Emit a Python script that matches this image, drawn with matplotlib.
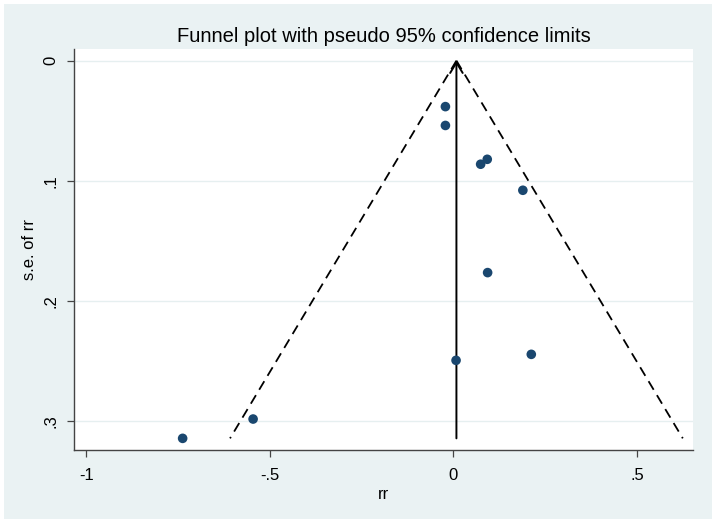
import numpy as np
import matplotlib.pyplot as plt
from matplotlib.patches import Rectangle

# study estimates
rr = [-0.738, -0.546, 0.007, 0.212, -0.022, -0.022, 0.092, 0.074, 0.189, 0.093]
se = [0.3147, 0.2986, 0.2497, 0.2447, 0.0383, 0.0540, 0.0822, 0.0863, 0.1080, 0.1766]
pooled = 0.008

x_ticks = [-1, -0.5, 0, 0.5]
x_labels = ['-1', '-.5', '0', '.5']
y_ticks = [0, 0.1, 0.2, 0.3]
y_labels = ['0', '.1', '.2', '.3']

bg = '#eaf2f3'
navy = '#1a476f'

plt.rcParams['font.family'] = ['Liberation Sans', 'DejaVu Sans']

fig = plt.figure(figsize=(7.17, 5.24), dpi=100, facecolor='white')
# stata style grey-blue graph region with a thin white border
fig.patches.append(Rectangle((4 / 717, 5 / 524), 708 / 717, 515 / 524,
                             transform=fig.transFigure, facecolor=bg,
                             edgecolor='none', zorder=-5))

ax = fig.add_axes([74 / 717, 74 / 524, 619 / 717, 401 / 524])
ax.set_zorder(1)
ax.set_facecolor('white')

# pseudo 95% confidence limits
max_se = max(se)
s = np.array([0, max_se])
ax.plot(pooled - 1.96 * s, s, color='black', lw=1.3, ls=(0, (5.5, 3.5)))
ax.plot(pooled + 1.96 * s, s, color='black', lw=1.3, ls=(0, (5.5, 3.5)))

# pooled estimate line with arrow at the top
ax.annotate('', xy=(pooled, 0), xytext=(pooled, max_se),
            arrowprops=dict(arrowstyle='->,head_length=0.5,head_width=0.3',
                            lw=1.4, color='black',
                            mutation_scale=15, shrinkA=0, shrinkB=0))

ax.scatter(rr, se, s=48, color=navy, zorder=3, edgecolors='none')

ax.set_xlim(-1.034, 0.6526)
ax.set_ylim(0.3244, -0.0097)

ax.set_xticks(x_ticks)
ax.set_xticklabels(x_labels)
ax.set_yticks(y_ticks)
ax.set_yticklabels(y_labels, rotation=90, va='center')
ax.tick_params(labelsize=12, length=5, width=0.9, color='#444444', pad=6)
ax.tick_params(axis='x', pad=8)

ax.grid(axis='y', color='#e6eff0', lw=1.0)
ax.set_axisbelow(True)

for side in ['top', 'right']:
    ax.spines[side].set_visible(False)
for side in ['left', 'bottom']:
    ax.spines[side].set_color('#444444')
    ax.spines[side].set_linewidth(1.0)

ax.set_xlabel('rr', fontsize=12, labelpad=3)
ax.set_ylabel('s.e. of rr', fontsize=12, labelpad=5)
ax.set_title('Funnel plot with pseudo 95% confidence limits', fontsize=14.5, pad=5)

fig.savefig('out.png', dpi=100, facecolor=fig.get_facecolor())
